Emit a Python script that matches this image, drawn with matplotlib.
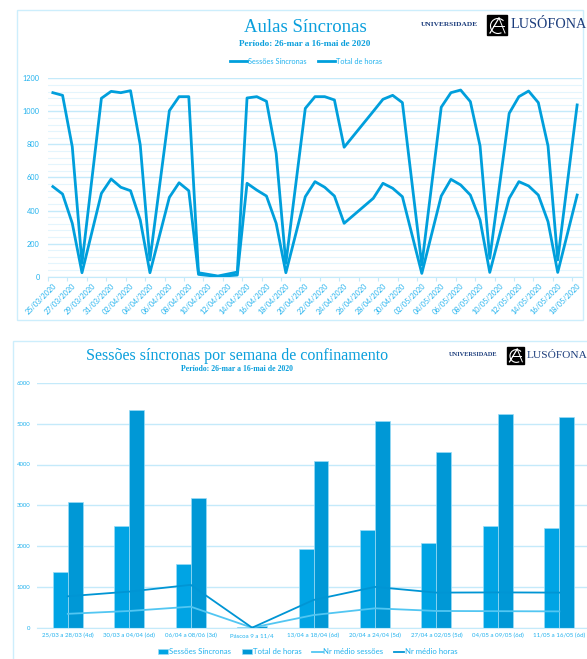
import matplotlib
matplotlib.use('Agg')
import matplotlib.pyplot as plt
import numpy as np
import pandas as pd
from matplotlib.patches import Rectangle, Patch, Arc
from matplotlib.lines import Line2D

W, H = 587, 659

# ---------------- data: daily (top chart) ----------------
dias = ["25/03/2020", "26/03/2020", "27/03/2020", "28/03/2020", "30/03/2020", "31/03/2020",
        "01/04/2020", "02/04/2020", "03/04/2020", "04/04/2020", "06/04/2020", "07/04/2020",
        "08/04/2020", "09/04/2020", "11/04/2020", "13/04/2020", "14/04/2020", "15/04/2020",
        "16/04/2020", "17/04/2020", "18/04/2020", "20/04/2020", "21/04/2020", "22/04/2020",
        "23/04/2020", "24/04/2020", "27/04/2020", "28/04/2020", "29/04/2020", "30/04/2020",
        "02/05/2020", "04/05/2020", "05/05/2020", "06/05/2020", "07/05/2020", "08/05/2020",
        "09/05/2020", "11/05/2020", "12/05/2020", "13/05/2020", "14/05/2020", "15/05/2020",
        "16/05/2020", "18/05/2020"]
sessoes_dia = [545, 500, 323, 24, 504, 591,
               541, 520, 343, 24, 480, 568,
               520, 14, 1, 10, 565, 524,
               488, 323, 24, 484, 575, 541,
               488, 323, 474, 565, 535, 484,
               20, 488, 589, 555, 494, 343,
               26, 474, 575, 549, 494, 333,
               26, 494]
horas_dia = [1113, 1097, 786, 81, 1079, 1121,
             1113, 1125, 797, 101, 1004, 1089,
             1089, 24, 4, 28, 1081, 1089,
             1061, 746, 81, 1018, 1089, 1089,
             1069, 783, 1000, 1073, 1097, 1053,
             71, 1025, 1113, 1129, 1059, 791,
             111, 988, 1089, 1123, 1053, 791,
             101, 1039]
eixo_inicio = "25/03/2020"
eixo_fim = "18/05/2020"

# ---------------- data: weekly (bottom chart) ----------------
semanas = ["25/03 a 28/03 (4d)", "30/03 a 04/04 (6d)", "06/04 a 08/06 (3d)", "Páscoa 9 a 11/4",
           "13/04 a 18/04 (6d)", "20/04 a 24/04 (5d)", "27/04 a 02/05 (5d)", "04/05 a 09/05 (6d)",
           "11/05 a 16/05 (6d)"]
sessoes_sem = [1373, 2500, 1554, 15, 1929, 2395, 2068, 2493, 2451]
horas_sem = [3073, 5336, 3186, 30, 4093, 5066, 4314, 5238, 5157]
media_sessoes = [340, 410, 515, 0, 310, 475, 410, 405, 400]
media_horas = [770, 885, 1050, 0, 680, 1000, 860, 865, 860]

# ---------------- styles ----------------
LINE = '#009fdc'
TICK = '#22b2ee'
TITLE = '#0a9fdc'
GRID = '#c4eafa'
GRID_MINOR = '#e4f5fd'
NAVY = '#1c3d7c'
SERIF = ['Liberation Serif', 'DejaVu Serif']
SANS = ['Lato', 'DejaVu Sans']

plt.rcParams['font.family'] = SANS

fig = plt.figure(figsize=(W / 100, H / 100), dpi=100)


def fx(x):
    return x / W


def fy(y):
    return 1 - y / H


def box(x0, y0, x1, y1):
    fig.add_artist(Rectangle((fx(x0), fy(y1)), (x1 - x0) / W, (y1 - y0) / H,
                             transform=fig.transFigure, fill=False, ec='#cdeefc', lw=1.0))


def logo(xu, xi, wi, xl, yc, su, sl, hi):
    fig.text(fx(xu), fy(yc), "UNIVERSIDADE", family=SERIF, weight='bold', fontsize=su,
             color=NAVY, ha='left', va='center')
    fig.add_artist(Rectangle((fx(xi), fy(yc + hi / 2)), wi / W, hi / H,
                             transform=fig.transFigure, fc='black', ec='black'))
    cx, cy = fx(xi + wi * 0.55), fy(yc + 1)
    fig.add_artist(Arc((cx, cy), wi * 0.75 / W, hi * 0.75 / H, theta1=40, theta2=300,
                       transform=fig.transFigure, color='white', lw=0.8))
    fig.add_artist(Line2D([fx(xi + wi * 0.15), fx(xi + wi * 0.6)],
                          [fy(yc + hi * 0.4), fy(yc - hi * 0.35)],
                          transform=fig.transFigure, color='white', lw=0.9))
    fig.add_artist(Line2D([fx(xi + wi * 0.6), fx(xi + wi * 0.9)],
                          [fy(yc - hi * 0.35), fy(yc + hi * 0.4)],
                          transform=fig.transFigure, color='white', lw=0.7))
    fig.add_artist(Line2D([fx(xi + wi * 0.3), fx(xi + wi * 0.85)],
                          [fy(yc + hi * 0.05), fy(yc + hi * 0.05)],
                          transform=fig.transFigure, color='white', lw=0.7))
    fig.text(fx(xl), fy(yc), "LUSÓFONA", family=SERIF, fontsize=sl,
             color=NAVY, ha='left', va='center')


# ================= TOP CHART =================
box(17, 10, 583, 320)
fig.text(fx(305), fy(28), "Aulas Síncronas", family=SERIF, fontsize=13.5, color=TITLE,
         ha='center', va='center')
fig.text(fx(305), fy(43.5), "Período: 26-mar a 16-mai de 2020", family=SERIF, fontsize=6.6,
         weight='bold', color=TITLE, ha='center', va='center')
logo(421, 487, 20, 511, 25, 5.3, 10.3, 20)

ax1 = fig.add_axes([fx(48), fy(276.7), (582 - 48) / W, (276.7 - 78.3) / H])
d0 = pd.to_datetime(eixo_inicio, format='%d/%m/%Y')
d1 = pd.to_datetime(eixo_fim, format='%d/%m/%Y')
dt = pd.to_datetime(pd.Series(dias), format='%d/%m/%Y')
xd = (dt - d0).dt.days.to_numpy()
ndias = (d1 - d0).days + 1

l1, = ax1.plot(xd, sessoes_dia, color=LINE, lw=2.0, label='Sessões Síncronas', zorder=3)
l2, = ax1.plot(xd, horas_dia, color=LINE, lw=2.0, label='Total de horas', zorder=3)
ax1.set_xlim(-0.5, ndias - 0.5)
ax1.set_ylim(0, 1200)
ax1.set_yticks(np.arange(0, 1201, 200))
ax1.set_yticks(np.arange(0, 1201, 40), minor=True)
ax1.grid(which='minor', axis='y', color=GRID_MINOR, lw=0.8, zorder=0)
ax1.grid(which='major', axis='y', color=GRID, lw=1.0, zorder=0)
ax1.set_axisbelow(True)
tick_dates = pd.date_range(d0, d1, freq='2D')
ax1.set_xticks((tick_dates - d0).days.to_numpy())
ax1.set_xticklabels(tick_dates.strftime('%d/%m/%Y'), rotation=45, ha='right',
                    rotation_mode='anchor', fontsize=5.2, color=TICK)
ax1.set_xticks(np.arange(-0.5, ndias, 2), minor=True)
ax1.tick_params(axis='x', which='major', length=0, pad=4)
ax1.tick_params(axis='x', which='minor', length=3, color=GRID, width=0.8)
ax1.tick_params(axis='y', which='both', length=0, labelsize=5.3, labelcolor=TICK, pad=6)
for s in ['top', 'right', 'left']:
    ax1.spines[s].set_visible(False)
ax1.spines['bottom'].set_color(GRID)
ax1.patch.set_visible(False)
fig.legend(handles=[l1, l2], loc='center', bbox_to_anchor=(fx(306), fy(61)), ncol=2,
           frameon=False, fontsize=5.3, handlelength=2.3, columnspacing=1.6,
           handletextpad=0.1, labelcolor=TICK)

# ================= BOTTOM CHART =================
box(13, 341, 600, 670)
fig.text(fx(237), fy(356), "Sessões síncronas por semana de confinamento", family=SERIF,
         fontsize=11.5, color=TITLE, ha='center', va='center')
fig.text(fx(237), fy(369), "Período: 26-mar a 16-mai de 2020", family=SERIF, fontsize=5.6,
         weight='bold', color=TITLE, ha='center', va='center')
logo(449, 507, 17, 527, 355, 4.6, 8.2, 17)

ax2 = fig.add_axes([fx(37.1), fy(627.7), (590 - 37.1) / W, (627.7 - 382.9) / H])
xs = np.arange(len(semanas))
bw = 0.243
b1 = ax2.bar(xs - bw / 2, sessoes_sem, bw, color='#00a4e4', ec='#9adcf6', lw=0.5,
             label='Sessões Síncronas', zorder=2)
b2 = ax2.bar(xs + bw / 2, horas_sem, bw, color='#0098d6', ec='#9adcf6', lw=0.5,
             label='Total de horas', zorder=2)
m1, = ax2.plot(xs, media_sessoes, color='#52c6f2', lw=1.3, label='Nr médio sessões', zorder=3)
m2, = ax2.plot(xs, media_horas, color='#0095d4', lw=1.3, label='Nr médio horas', zorder=3)
ax2.set_xlim(-0.5, len(semanas) - 0.5)
ax2.set_ylim(0, 6000)
ax2.set_yticks(np.arange(0, 6001, 1000))
ax2.grid(axis='y', color=GRID, lw=1.0, zorder=0)
ax2.set_axisbelow(True)
ax2.set_xticks(xs)
ax2.set_xticklabels(semanas, fontsize=4.4, color=TICK)
ax2.tick_params(axis='x', length=0, pad=4)
ax2.tick_params(axis='y', length=0, labelsize=4.3, labelcolor=TICK, pad=5)
for s in ['top', 'right', 'left']:
    ax2.spines[s].set_visible(False)
ax2.spines['bottom'].set_color(GRID)
ax2.patch.set_visible(False)
h1 = Patch(fc='#00a4e4', ec='#9adcf6', lw=0.5)
h2 = Patch(fc='#0098d6', ec='#9adcf6', lw=0.5)
fig.legend(handles=[h1, h2, m1, m2],
           labels=['Sessões Síncronas', 'Total de horas', 'Nr médio sessões', 'Nr médio horas'],
           loc='center', bbox_to_anchor=(fx(308), fy(652)), ncol=4, frameon=False,
           fontsize=5.6, handlelength=1.3, handleheight=0.55, columnspacing=1.4,
           handletextpad=0.1, labelcolor=TICK)

fig.savefig('out.png', dpi=100)
